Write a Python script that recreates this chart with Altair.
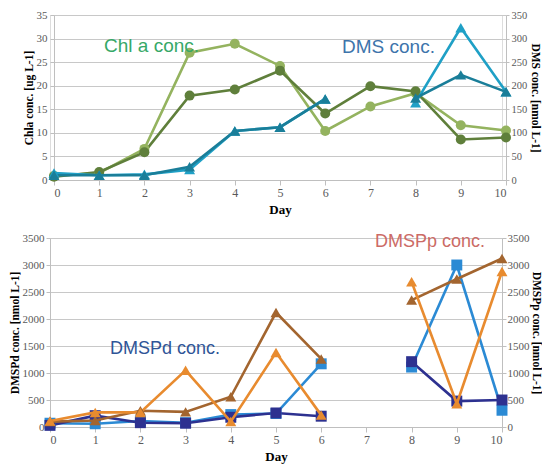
import altair as alt
import pandas as pd

days = list(range(11))

# Top panel: Chl a (ug/L, left axis) and DMS (nmol/L, right axis)
chl_light = [0.9, 1.5, 6.6, 27.0, 28.9, 24.2, 10.4, 15.6, 18.4, 11.6, 10.5]
chl_dark = [0.7, 1.7, 5.9, 17.9, 19.2, 23.2, 14.1, 19.9, 18.8, 8.6, 9.0]
dms_light = [15, 10, 12, 22, 104, 112, 172, None, 164, 323, 187]
dms_dark = [10, 10, 10, 28, 104, 112, 172, None, 174, 223, 187]

# Bottom panel: DMSPd (squares, left axis) and DMSPp (triangles, right axis), nmol/L
dmspp_brown = [100, 120, 300, 280, 560, 2120, 1260, None, 2350, 2740, 3120]
dmspp_orange = [110, 270, 270, 1050, 100, 1380, 220, None, 2690, 430, 2880]
dmspd_sky = [70, 60, 110, 80, 230, 250, 1170, None, 1110, 3000, 310]
dmspd_navy = [30, 210, 80, 70, 180, 260, 200, None, 1210, 480, 500]

names = ["chl_light", "chl_dark", "dms_light", "dms_dark",
         "dmspp_brown", "dmspp_orange", "dmspd_sky", "dmspd_navy"]
colors = ["#94b35f", "#5f7f3b", "#1fa0c6", "#1a7e99",
          "#a3652f", "#e88b2f", "#2b8ad4", "#2d3190"]


def to_long(series):
    rows = []
    for name, vals in series.items():
        seg = 0
        for d, v in zip(days, vals):
            if v is None:
                seg += 1
                continue
            rows.append({"day": d, "value": v, "series": name, "seg": f"{name}-{seg}"})
    return pd.DataFrame(rows)


chl_df = to_long({"chl_light": chl_light, "chl_dark": chl_dark})
dms_df = to_long({"dms_light": dms_light, "dms_dark": dms_dark})
dmspd_df = to_long({"dmspd_sky": dmspd_sky, "dmspd_navy": dmspd_navy})
dmspp_df = to_long({"dmspp_brown": dmspp_brown, "dmspp_orange": dmspp_orange})

SERIF = "Liberation Serif"
SANS = "Liberation Sans"

color = alt.Color("series:N", scale=alt.Scale(domain=names, range=colors), legend=None)


def make_x(xrange):
    def x_enc():
        sc = alt.Scale(domain=[0, 10], nice=False, range=xrange) if xrange else \
            alt.Scale(domain=[0, 10], nice=False)
        return alt.X("day:Q", scale=sc,
                     axis=alt.Axis(values=days, format="d", title="Day", grid=False,
                                   labelFont=SERIF, labelFontSize=12, labelColor="#595959",
                                   titleFont=SERIF, titleFontSize=13, titleFontWeight="bold",
                                   titleColor="#000000", titlePadding=5,
                                   domainColor="#bfbfbf", tickColor="#bfbfbf", tickSize=5,
                                   labelPadding=2))
    return x_enc


def y_axis(title, vmax, step, orient, grid, lsize, tsize, lpad, tpad, offset=0):
    return alt.Axis(values=list(range(0, vmax + 1, step)), format="d", title=title, orient=orient,
                    grid=grid, gridColor="#c8c8c8", gridWidth=1, offset=offset,
                    labelFont=SERIF, labelFontSize=lsize, labelColor="#595959",
                    titleFont=SERIF, titleFontSize=11.5, titleFontWeight="bold",
                    titleColor="#000000", domainColor="#bfbfbf", tickColor="#bfbfbf",
                    tickSize=tsize, labelPadding=lpad, titlePadding=tpad)


def series_layers(df, vmax, axis, shape, size, x_enc):
    def y():
        return alt.Y("value:Q", scale=alt.Scale(domain=[0, vmax], nice=False), axis=axis)
    base = alt.Chart(df)
    line = base.mark_line(strokeWidth=2.6).encode(
        x=x_enc(), y=y(), color=color, detail="seg:N", order="day:Q")
    pts = base.mark_point(shape=shape, filled=True, size=size, opacity=1).encode(
        x=x_enc(), y=y(), color=color)
    return line, pts


def label(text, px, py, col, size):
    return alt.Chart(pd.DataFrame({"t": [text]})).mark_text(
        align="left", baseline="middle", font=SANS, fontSize=size, color=col
    ).encode(x=alt.value(px), y=alt.value(py), text="t:N")


W = 452
top_x = make_x([4, 456])
bot_x = make_x(None)

# Top panel
chl_line, chl_pts = series_layers(
    chl_df, 35, y_axis("Chla conc. [ug L-1]", 35, 5, "left", True, 11, 4, 3, 2, -4),
    "circle", 100, top_x)
dms_line, dms_pts = series_layers(
    dms_df, 350, y_axis("DMS conc. [nmol L-1]", 350, 50, "right", False, 10.5, 3, 2, 3, 4),
    "triangle-up", 120, top_x)

top = alt.layer(alt.layer(chl_line, chl_pts), alt.layer(dms_line, dms_pts),
                label("Chl a conc.", 54, 31, "#36a867", 19),
                label("DMS conc.", 292, 32, "#3d74ab", 19)
                ).resolve_scale(y="independent").properties(width=W, height=165)

# Bottom panel
pd_line, pd_pts = series_layers(
    dmspd_df, 3500, y_axis("DMSPd conc. [nmol L-1]", 3500, 500, "left", True, 11, 4, 2, 2),
    "square", 120, bot_x)
pp_line, pp_pts = series_layers(
    dmspp_df, 3500, y_axis("DMSPp conc. [nmol L-1]", 3500, 500, "right", False, 11, 4, 1, 1),
    "triangle-up", 120, bot_x)

bottom = alt.layer(alt.layer(pd_line, pd_pts), alt.layer(pp_line, pp_pts),
                   label("DMSPd conc.", 60, 111, "#2f5597", 18),
                   label("DMSPp conc.", 325, 4, "#cc6b66", 18)
                   ).resolve_scale(y="independent").properties(width=W, height=189)

chart = alt.vconcat(top, bottom, spacing=14).properties(
    padding={"left": 0, "top": 0, "right": 0, "bottom": 0}
).configure_view(stroke=None).configure(background="white")

chart.save("out.html", embed_options={"renderer": "svg", "actions": False})
